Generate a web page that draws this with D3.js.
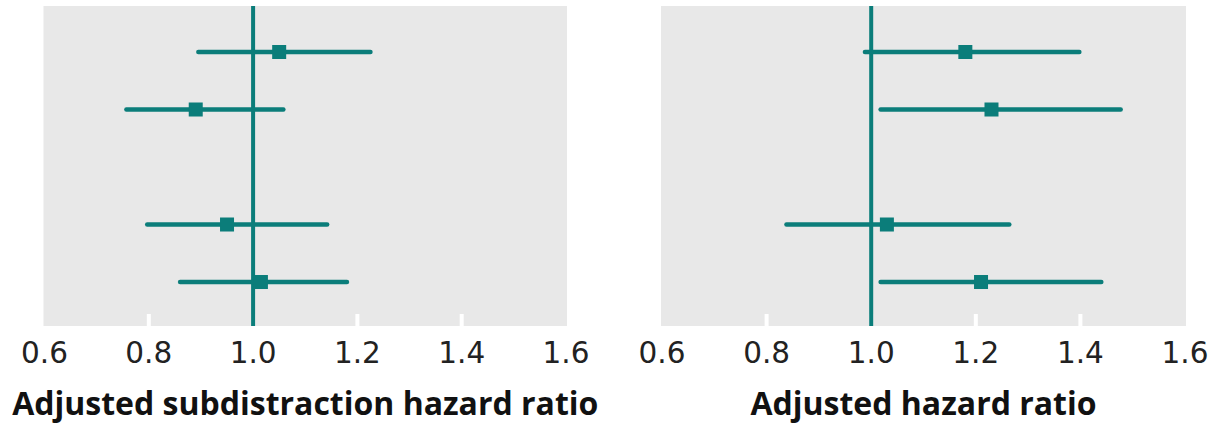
<!DOCTYPE html>
<html>
<head>
<meta charset="utf-8">
<script src="https://cdn.jsdelivr.net/npm/d3@7"></script>
<style>
  html, body { margin: 0; padding: 0; background: #fff; }
  svg { display: block; }
  .tl { font-family: "DejaVu Sans", "Liberation Sans", sans-serif; }
  .ttl { font-family: "Open Sans", "Liberation Sans", sans-serif; font-weight: 700; }
</style>
</head>
<body>
<svg id="chart" width="1226" height="426"></svg>
<script>
// Row positions (row 3 left empty as a spacer)
const rows = [1, 2, 4, 5];

// Competing-risk model: adjusted subdistribution hazard ratios with 95% CI
const subEst  = [1.05, 0.89, 0.95, 1.015];
const subLow  = [0.895, 0.757, 0.797, 0.86];
const subHigh = [1.225, 1.058, 1.142, 1.18];

// Cox model: adjusted hazard ratios with 95% CI
const hrEst  = [1.18, 1.23, 1.03, 1.21];
const hrLow  = [0.988, 1.018, 0.838, 1.018];
const hrHigh = [1.398, 1.477, 1.264, 1.44];

const tickValues = [0.6, 0.8, 1.0, 1.2, 1.4, 1.6];
const titles = ["Adjusted subdistraction hazard ratio", "Adjusted hazard ratio"];

const teal = "#0b7d7a";
const panelBg = "#e8e8e8";

const svg = d3.select("#chart");

const y = d3.scaleLinear().domain([0.2, 5.765]).range([6, 326]);

const panels = [
  { x0: 44.5, x1: 566, est: subEst, low: subLow, high: subHigh, title: titles[0] },
  { x0: 662, x1: 1185, est: hrEst, low: hrLow, high: hrHigh, title: titles[1] }
];

panels.forEach(p => {
  const x = d3.scaleLinear().domain([0.6, 1.6]).range([p.x0, p.x1]);
  const g = svg.append("g");

  // panel background
  g.append("rect")
    .attr("x", x(0.6) - 1).attr("y", y(0.2))
    .attr("width", x(1.6) - x(0.6) + 2).attr("height", y(5.765) - y(0.2))
    .attr("fill", panelBg);

  // short white ticks at the bottom of the panel
  g.selectAll("line.tick")
    .data(tickValues.filter(v => v > 0.6 && v < 1.6))
    .join("line")
    .attr("class", "tick")
    .attr("x1", d => x(d)).attr("x2", d => x(d))
    .attr("y1", y(5.765) - 12).attr("y2", y(5.765))
    .attr("stroke", "#fff").attr("stroke-width", 4);

  // reference line at 1.0
  g.append("line")
    .attr("x1", x(1)).attr("x2", x(1))
    .attr("y1", y(0.2)).attr("y2", y(5.765))
    .attr("stroke", teal).attr("stroke-width", 4);

  const data = rows.map((r, i) => ({ r, est: p.est[i], low: p.low[i], high: p.high[i] }));

  // confidence intervals
  g.selectAll("line.ci")
    .data(data)
    .join("line")
    .attr("class", "ci")
    .attr("x1", d => x(d.low)).attr("x2", d => x(d.high))
    .attr("y1", d => y(d.r)).attr("y2", d => y(d.r))
    .attr("stroke", teal).attr("stroke-width", 4.5)
    .attr("stroke-linecap", "round");

  // point estimates
  const s = 14;
  g.selectAll("rect.pt")
    .data(data)
    .join("rect")
    .attr("class", "pt")
    .attr("x", d => x(d.est) - s / 2).attr("y", d => y(d.r) - s / 2)
    .attr("width", s).attr("height", s)
    .attr("fill", teal);

  // tick labels
  g.selectAll("text.tl")
    .data(tickValues)
    .join("text")
    .attr("class", "tl")
    .attr("x", d => x(d)).attr("y", 363)
    .attr("text-anchor", "middle")
    .attr("font-size", 29.5)
    .attr("fill", "#222")
    .text(d => d3.format(".1f")(d));

  // axis title
  g.append("text")
    .attr("class", "ttl")
    .attr("x", (x(0.6) + x(1.6)) / 2).attr("y", 415)
    .attr("text-anchor", "middle")
    .attr("font-size", 32)
    .attr("fill", "#111")
    .text(p.title);
});
</script>
</body>
</html>
